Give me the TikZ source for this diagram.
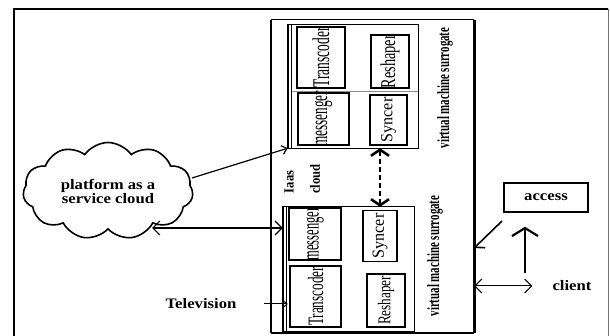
\documentclass[tikz,border=0pt]{standalone}
\usepackage{fontspec}
\setmainfont{Liberation Serif}
\usepackage{graphicx}
\usetikzlibrary{arrows.meta,shapes.symbols}
% vertical (bottom-to-top) label: horizontal squeeze, font size, text
\newcommand\vlbl[3]{\rotatebox{90}{\makebox[0pt]{\scalebox{#1}[1]{\fontsize{#2}{#2}\selectfont #3}}}}
% wide bold label
\newcommand\wlbl[1]{\scalebox{1.15}[1]{#1}}
\begin{document}
\begin{tikzpicture}[x=1pt,y=-1pt,
  comp/.style={draw,line width=1.8pt,inner sep=0pt},
  vtext/.style={inner sep=0pt},
  wtext/.style={inner sep=0pt,font=\fontsize{14.5}{14}\selectfont\bfseries},
  hsmall/.style={-{Straight Barb[length=5pt,width=9pt]}},
  hmed/.style={{Straight Barb[length=7pt,width=14pt]}-{Straight Barb[length=7pt,width=14pt]}},
  hone/.style={-{Straight Barb[length=7pt,width=15pt]}},
  hbig/.style={-{Straight Barb[length=8pt,width=26pt]}},
  hdash/.style={{Straight Barb[length=6pt,width=18pt]}-{Straight Barb[length=6pt,width=18pt]}},
]
\useasboundingbox (0,0) rectangle (610,336);
\clip (0,0) rectangle (610,336);
\fill[white] (0,0) rectangle (610,336);

% outer frame
\draw[line width=2.2pt] (14,345) -- (14,9) -- (608,9);
\draw[line width=0.8pt,black!55] (608,9) -- (608,345);

% IaaS cloud container
\node[inner sep=0pt,minimum width=203pt,minimum height=313pt] (iaas) at (372.5,176.5) {};
\draw[line width=1pt] (iaas.north west) -- (iaas.north east);
\draw[line width=2pt] (iaas.north west) -- (iaas.south west);
\draw[line width=3.4pt] (iaas.north east) -- (iaas.south east);
\draw[line width=1.6pt] (iaas.south west) -- (iaas.south east);

% upper virtual machine surrogate
\node[inner sep=0pt,minimum width=130pt,minimum height=123pt] (uvm) at (353,86.5) {};
\draw[line width=1.2pt] (uvm.north west) rectangle (uvm.south east);
\draw[line width=2.2pt] (uvm.north west) -- (uvm.south west);
\draw[line width=0.8pt] ([xshift=4pt]uvm.north west) -- ([xshift=4pt]uvm.south west);
\draw[line width=0.6pt,black!45] ([xshift=4pt]uvm.west |- 0,91) -- (uvm.east |- 0,91);

\node[comp,minimum width=48pt,minimum height=61pt] (uT) at (321,57.5) {\vlbl{0.56}{24}{Transcoder}};
\node[comp,minimum width=38pt,minimum height=53pt] (uR) at (390,61.5) {\vlbl{0.68}{21}{Reshaper}};
\node[comp,minimum width=51pt,minimum height=52pt] (uM) at (323.5,119) {\vlbl{0.55}{24}{messenger}};
\node[comp,minimum width=37pt,minimum height=50pt] (uS) at (388.5,120) {\vlbl{0.95}{17}{Syncer}};
\node[vtext] (uvl) at (445,88) {\vlbl{0.64}{17}{\bfseries virtual machine surrogate}};

% lower virtual machine surrogate
\node[inner sep=0pt,minimum width=131pt,minimum height=124pt] (lvm) at (348.5,269) {};
\draw[line width=1.2pt] (lvm.north west) rectangle (lvm.south east);
\draw[line width=2.2pt] (lvm.north west) -- (lvm.south west);
\draw[line width=0.8pt] ([xshift=4pt]lvm.north west) -- ([xshift=4pt]lvm.south west);

\node[comp,minimum width=52pt,minimum height=52pt] (lM) at (315,234) {\vlbl{0.52}{24}{messenger}};
\node[comp,minimum width=51pt,minimum height=61pt] (lT) at (315.5,296.5) {\vlbl{0.6}{22}{Transcoder}};
\node[comp,minimum width=34pt,minimum height=51pt] (lS) at (380,236) {\vlbl{0.95}{17}{Syncer}};
\node[comp,minimum width=38pt,minimum height=53pt] (lR) at (386,300.5) {\vlbl{0.73}{18}{Reshaper}};
\node[vtext] (lvl) at (435,256) {\vlbl{0.64}{17}{\bfseries virtual machine surrogate}};

% IaaS label
\node[vtext] (ia1) at (289,182) {\vlbl{0.9}{14}{\bfseries Iaas}};
\node[vtext] (ia2) at (315,179) {\vlbl{0.9}{14}{\bfseries cloud}};

% synchronisation between the two Syncers
\draw[line width=2.6pt,dash pattern=on 5pt off 3pt,hdash] (uvm.south -| lS) -- (lvm.north -| lS);

% platform as a service cloud
\node[cloud,draw,line width=1.6pt,cloud puffs=11,cloud puff arc=110,aspect=1.75,
      minimum width=170pt,minimum height=97pt,inner sep=0pt,align=center,
      font=\fontsize{14.5}{14}\selectfont\bfseries] (pc) at (108,191)
      {\wlbl{platform as a}\\\wlbl{service cloud}};
\coordinate (c1) at (192,178);
\coordinate (c2) at (152,228);
\draw[line width=1.2pt,hsmall] (c1) -- (uvm.south west);
\draw[line width=1.2pt,hmed] (c2) -- (c2 -| lvm.west);

% television
\node[wtext] (tv) at (201,304) {\wlbl{Television}};
\draw[line width=1pt,hsmall,shorten <=27pt] (tv.east) -- ([xshift=5pt]lvm.west |- tv);

% access and client
\node[draw,line width=1.5pt,minimum width=84pt,minimum height=29pt,inner sep=0pt,
      font=\fontsize{14.5}{14}\selectfont\bfseries] (acc) at (546,197.5) {\wlbl{access}};
\node[wtext] (cl) at (572,286) {\wlbl{client}};
\coordinate (dg) at (502,221);
\coordinate (up) at (525,273);
\draw[line width=1.6pt,hone] (dg) -- (iaas.east |- 0,248);
\draw[line width=2.2pt,hbig,shorten >=14pt] (up) -- (up |- acc.south);
\draw[line width=1pt,hmed] (iaas.east |- cl) -- ([xshift=-20pt]cl.west);
\end{tikzpicture}
\end{document}
